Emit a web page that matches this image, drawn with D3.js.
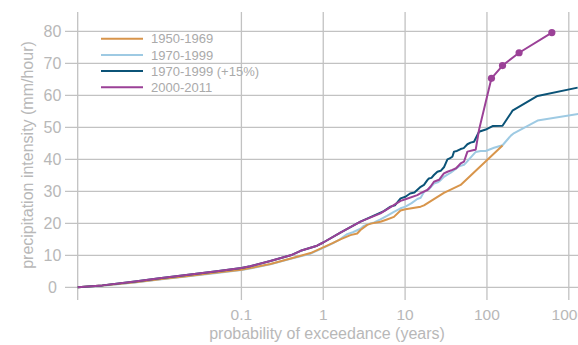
<!DOCTYPE html>
<html>
<head>
<meta charset="utf-8">
<script src="https://cdn.jsdelivr.net/npm/d3@7"></script>
<style>
  html, body { margin: 0; padding: 0; background: #fff; }
  svg { display: block; font-family: "Liberation Sans", Arial, Helvetica, sans-serif; }
</style>
</head>
<body>
<svg id="chart" width="578" height="345"></svg>
<script>
// Return period (years) vs. precipitation intensity (mm/hour)
const xGridValues = [0.001, 0.1, 1, 10, 100, 1000];
const xTickLabels = ["", "0.1", "1", "10", "100", "1000"];
const yTickValues = [0, 10, 20, 30, 40, 50, 60, 70, 80];

const seriesNames = ["1950-1969", "1970-1999", "1970-1999 (+15%)", "2000-2011"];
const seriesColors = ["#d8954b", "#9ecae3", "#0b5377", "#9b4197"];

const data1950 = [[0.001,0],[0.002,0.55],[0.005,1.6],[0.01,2.5],[0.02,3.4],[0.05,4.6],[0.1,5.5],[0.128,6.0],[0.226,7.3],[0.4,9.0],[0.7,10.7],[1.0,12.5],[1.3,13.8],[1.62,15.0],[2.15,16.3],[2.6,16.8],[2.85,17.9],[3.45,19.5],[3.8,19.9],[5.0,20.5],[6.0,21.2],[7.3,22.0],[8.8,24.0],[10.1,24.4],[15.5,25.2],[17.0,25.6],[29.8,29.5],[47.7,32.0],[155,44.3]];

const data1970 = [[0.001,0],[0.002,0.5],[0.005,1.5],[0.01,2.4],[0.02,3.3],[0.05,4.5],[0.1,5.4],[0.128,5.9],[0.226,7.2],[0.4,8.9],[0.7,10.5],[1.0,12.3],[1.3,13.7],[1.6,15.0],[1.96,16.6],[2.3,17.2],[2.85,18.3],[3.13,19.2],[3.6,19.8],[4.2,20.3],[5.0,21.2],[6.0,22.3],[7.3,23.6],[8.8,24.7],[10.1,25.2],[12,26.3],[14.1,27.6],[15.5,28.0],[17,29.8],[19.5,30.6],[22.5,32.4],[25,32.8],[27.2,33.5],[29.8,34.5],[32.9,35.2],[36.1,35.8],[41.5,37.0],[45.5,37.8],[52.5,38.3],[55,38.8],[60.4,40.0],[72.9,42.3],[83.9,42.6],[96.6,42.6],[122,43.6],[155,44.4],[196,47.4],[215,48.2],[415,52.1],[1330,54.2]];

const data1970plus = [[0.001,0],[0.002,0.6],[0.005,1.8],[0.01,2.8],[0.02,3.8],[0.05,5.0],[0.1,6.0],[0.128,6.6],[0.226,8.2],[0.4,10.0],[0.53,11.4],[0.84,13.0],[1.0,14.0],[1.62,17.1],[2.85,20.5],[4.78,23.1],[5.5,23.8],[6.64,25.2],[7.5,25.6],[8.81,27.8],[10.1,28.3],[11.5,29.3],[13,29.6],[15.5,31.4],[17.0,32.0],[18.7,33.5],[19.5,34.0],[21,34.2],[22.5,35.1],[24.8,36.1],[27.2,36.4],[30,37.6],[32.9,40.0],[35,40.3],[37.8,40.8],[39.6,42.4],[43,42.6],[47.7,43.2],[52,43.5],[57.7,44.7],[63,45.2],[69.5,45.5],[80.0,48.6],[96.6,49.3],[117,50.4],[155,50.5],[196,54.4],[205,55.2],[415,59.8],[1282,62.4]];

const data2000 = [[0.001,0],[0.002,0.6],[0.005,1.8],[0.01,2.8],[0.02,3.8],[0.05,5.0],[0.1,6.0],[0.128,6.6],[0.226,8.2],[0.4,10.0],[0.53,11.4],[0.84,13.0],[1.0,14.0],[1.62,17.1],[2.85,20.5],[5.0,23.1],[8.81,27.0],[10.1,27.5],[14.1,28.8],[15.5,29.4],[18.7,30.4],[20.5,31.5],[22.5,33.0],[26,33.6],[29.8,35.6],[32.9,36.1],[37.8,36.7],[42,37.2],[47.7,38.7],[52.5,39.3],[57.7,42.4],[69.5,42.9],[72.9,43.0],[80.0,49.2],[113.5,65.3],[155,69.3],[247,73.3],[621,79.6]];
const dotCount2000 = 4; // the longest return periods are marked with dots

const svg = d3.select("#chart");
const W = 578, H = 345;

const x = d3.scaleLog().domain([0.001, 1000]).range([77.7, 568.8]);
const y = d3.scaleLinear().domain([0, 80]).range([287.3, 31.3]);

const gridColor = "#c2c2c2";
const textColor = "#b8b8b8";

// horizontal grid with short ticks on the left
svg.append("g").selectAll("line").data(yTickValues).join("line")
  .attr("x1", 65).attr("x2", W)
  .attr("y1", d => y(d)).attr("y2", d => y(d))
  .attr("stroke", gridColor).attr("stroke-width", 1.3);

// vertical grid running past the zero line
svg.append("g").selectAll("line").data(xGridValues).join("line")
  .attr("x1", d => x(d)).attr("x2", d => x(d))
  .attr("y1", 12).attr("y2", 300)
  .attr("stroke", gridColor).attr("stroke-width", 1.3);

// y tick labels
svg.append("g").selectAll("text").data(yTickValues).join("text")
  .attr("x", 52.5).attr("y", d => y(d))
  .attr("dy", "0.36em")
  .attr("text-anchor", "middle")
  .attr("font-size", 16).attr("fill", textColor)
  .text(d => d);

// x tick labels
svg.append("g").selectAll("text").data(xGridValues).join("text")
  .attr("x", d => x(d)).attr("y", 319.5)
  .attr("text-anchor", "middle")
  .attr("font-size", 15.5).attr("fill", textColor)
  .text((d, i) => xTickLabels[i]);

// axis titles
svg.append("text")
  .attr("x", 327).attr("y", 339)
  .attr("text-anchor", "middle")
  .attr("font-size", 16).attr("fill", textColor)
  .text("probability of exceedance (years)");

svg.append("text")
  .attr("transform", "translate(33,155) rotate(-90)")
  .attr("text-anchor", "middle")
  .attr("font-size", 16).attr("fill", textColor)
  .text("precipitation intensity (mm/hour)");

// curves
const line = d3.line().x(d => x(d[0])).y(d => y(d[1]));
const drawOrder = [[data1970, 1], [data1950, 0], [data1970plus, 2], [data2000, 3]];
const curves = svg.append("g");
drawOrder.forEach(([pts, ci]) => {
  curves.append("path")
    .attr("d", line(pts))
    .attr("fill", "none")
    .attr("stroke", seriesColors[ci])
    .attr("stroke-width", 2)
    .attr("stroke-linejoin", "round");
});

curves.selectAll("circle").data(data2000.slice(-dotCount2000)).join("circle")
  .attr("cx", d => x(d[0])).attr("cy", d => y(d[1]))
  .attr("r", 3.6).attr("fill", seriesColors[3]);

// legend
const legend = svg.append("g");
seriesNames.forEach((name, i) => {
  const ly = 38.7 + i * 16.2;
  legend.append("line")
    .attr("x1", 101).attr("x2", 143)
    .attr("y1", ly).attr("y2", ly)
    .attr("stroke", seriesColors[i]).attr("stroke-width", 2);
  legend.append("text")
    .attr("x", 151).attr("y", ly).attr("dy", "0.36em")
    .attr("font-size", 13).attr("fill", "#aaaaaa")
    .text(name);
});
</script>
</body>
</html>
